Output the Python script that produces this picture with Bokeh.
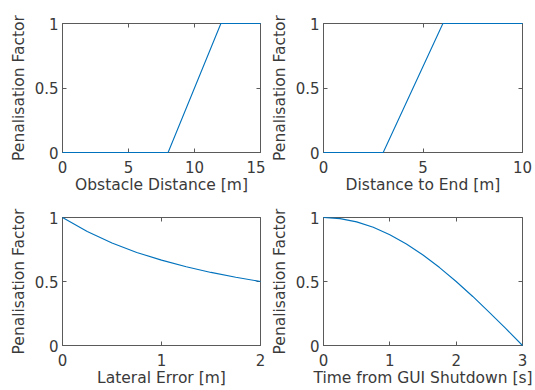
from bokeh.plotting import figure
from bokeh.layouts import gridplot
from bokeh.models import Range1d, FixedTicker, LinearAxis
from bokeh.embed import file_html
from bokeh.resources import INLINE

# Data
obs_x = [0, 8, 12, 15]
obs_y = [0, 0, 1, 1]
end_x = [0, 3, 6, 10]
end_y = [0, 0, 1, 1]
lat_x = [0, 0.25, 0.5, 0.75, 1.0, 1.25, 1.5, 1.75, 2.0]
lat_y = [1.0, 0.89, 0.80, 0.727, 0.667, 0.615, 0.571, 0.533, 0.5]
gui_x = [0, 0.25, 0.5, 0.75, 1.0, 1.25, 1.5, 1.75, 2.0, 2.25, 2.5, 2.75, 3.0]
gui_y = [1.0, 0.991, 0.966, 0.924, 0.866, 0.793, 0.707, 0.609, 0.5, 0.383, 0.259, 0.131, 0.0]

y_ticks = [0, 0.5, 1]
y_labels = {0: "0", 0.5: "0.5", 1: "1"}
ylabel = "Penalisation Factor"

panels = [
    (obs_x, obs_y, 15, [0, 5, 10, 15], "Obstacle Distance [m]"),
    (end_x, end_y, 10, [0, 5, 10], "Distance to End [m]"),
    (lat_x, lat_y, 2, [0, 1, 2], "Lateral Error [m]"),
    (gui_x, gui_y, 3, [0, 1, 2, 3], "Time from GUI Shutdown [s]"),
]

FONT = "DejaVu Sans"
TXT = "#3a3a3a"
AX = "#5a5a5a"
BLUE = "#0072BD"

geom = [
    # width, height, left, right, top, bottom
    (265, 197, 62, 5, 23, 45),
    (270, 197, 58, 13, 23, 45),
    (265, 193, 62, 5, 20, 45),
    (270, 193, 58, 13, 20, 45),
]

figs = []
for (xs, ys, xmax, xt, xl), (w, h, bl, br, bt, bb) in zip(panels, geom):
    p = figure(width=w, height=h, output_backend="svg", toolbar_location=None,
               x_range=Range1d(0, xmax), y_range=Range1d(0, 1),
               min_border_left=bl, min_border_right=br,
               min_border_top=bt, min_border_bottom=bb)
    p.line(xs, ys, line_color=BLUE, line_width=1.1, level="overlay")
    p.xgrid.visible = False
    p.ygrid.visible = False
    p.outline_line_color = AX
    p.outline_line_width = 1
    p.background_fill_color = "white"
    p.border_fill_color = "white"

    xa = p.xaxis[0]
    xa.ticker = FixedTicker(ticks=xt)
    xa.axis_label = xl
    ya = p.yaxis[0]
    ya.ticker = FixedTicker(ticks=y_ticks)
    ya.major_label_overrides = y_labels
    ya.axis_label = ylabel
    for a in (xa, ya):
        a.axis_line_color = AX
        a.major_tick_line_color = AX
        a.major_tick_in = 4
        a.major_tick_out = 0
        a.minor_tick_line_color = None
        a.major_label_text_font = FONT
        a.major_label_text_font_size = "15px"
        a.major_label_text_color = TXT
        a.axis_label_text_font = FONT
        a.axis_label_text_font_size = "15.5px"
        a.axis_label_text_font_style = "normal"
        a.axis_label_text_color = TXT
    xa.major_label_standoff = 8
    xa.axis_label_standoff = 0
    ya.major_label_standoff = 4
    ya.axis_label_standoff = 4

    # mirrored ticks on top and right (MATLAB box style)
    top = LinearAxis(ticker=FixedTicker(ticks=xt),
                     major_label_overrides={t: "" for t in xt},
                     major_label_standoff=0, axis_line_color=None,
                     major_tick_line_color=AX, major_tick_in=4, major_tick_out=0,
                     minor_tick_line_color=None)
    right = LinearAxis(ticker=FixedTicker(ticks=y_ticks),
                       major_label_overrides={t: "" for t in y_ticks},
                       major_label_standoff=0, axis_line_color=None,
                       major_tick_line_color=AX, major_tick_in=4, major_tick_out=0,
                       minor_tick_line_color=None)
    p.add_layout(top, "above")
    p.add_layout(right, "right")
    figs.append(p)

grid = gridplot([[figs[0], figs[1]], [figs[2], figs[3]]], toolbar_location=None)

open("out.html", "w").write(file_html(grid, INLINE))
